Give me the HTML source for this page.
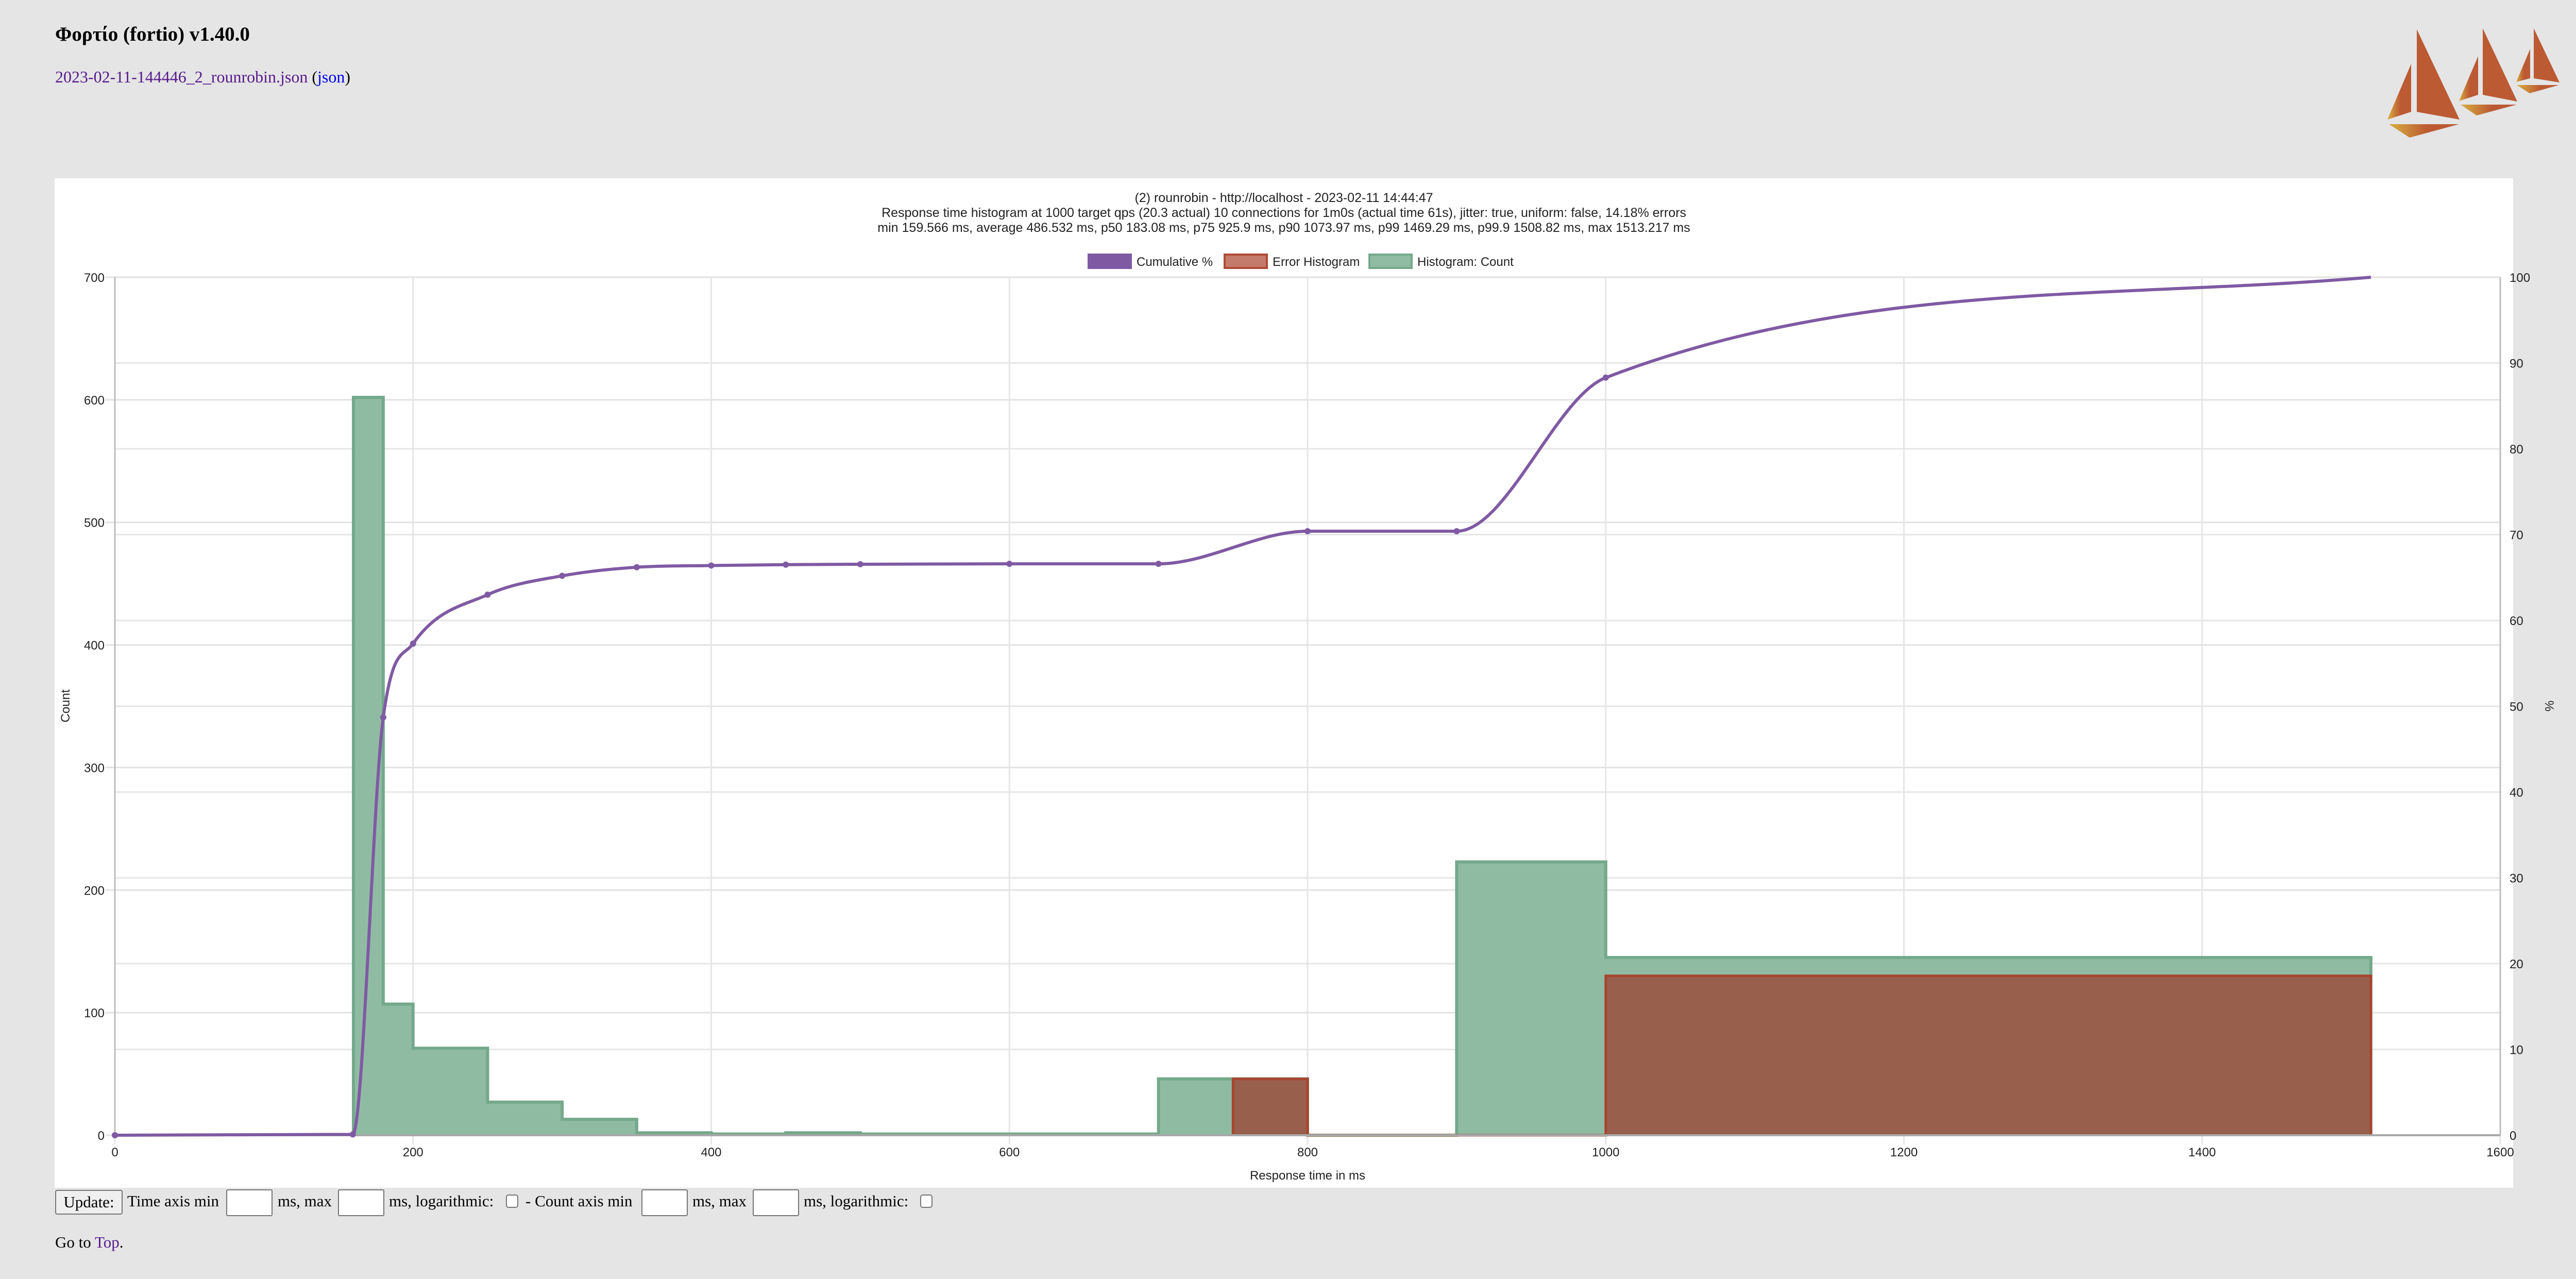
<!DOCTYPE html>
<html><head><meta charset="utf-8">
<style>
html,body{margin:0;padding:0;background:#e5e5e5;}
body{width:5064px;height:2482px;position:relative;overflow:hidden;font-family:"Liberation Serif",serif;}
.abs{position:absolute;}
h1{position:absolute;left:107px;top:44px;margin:0;font-size:39px;font-weight:bold;font-family:"Liberation Serif",serif;}
.lnk{left:107px;top:131px;font-size:32px;color:#551a8b;}
.ctl{font-size:31px;color:#000;white-space:nowrap;}
.inp{position:absolute;background:#fff;border:2px solid #767676;border-radius:3px;box-sizing:border-box;}
.cb{position:absolute;background:#fff;border:2px solid #767676;border-radius:5px;box-sizing:border-box;width:24px;height:26px;}
svg text{font-family:"Liberation Sans",sans-serif;fill:#222;}
</style></head><body>
<h1>Φορτίο (fortio) v1.40.0</h1>
<div class="abs lnk">2023-02-11-144446_2_rounrobin.json <span style="color:#000">(</span><span style="color:#0000ee">json</span><span style="color:#000">)</span></div>

<svg class="abs" style="left:4600px;top:40px" width="400" height="250" viewBox="4600 40 400 250">
<defs><linearGradient id="lg" x1="0" x2="1" y1="0" y2="0"><stop offset="0" stop-color="#d9ae40"/><stop offset="0.55" stop-color="#bb5a33"/></linearGradient></defs>
<polygon points="4691,57 4691,217 4774,232" fill="#bb5a33"/>
<polygon points="4680,124 4680,217 4634,232" fill="url(#lg)"/>
<polygon points="4637,241 4773,241 4677,267" fill="url(#lg)"/>
<polygon points="4819,55 4819,184 4886,197" fill="#bb5a33"/>
<polygon points="4810,109 4810,184 4773,196" fill="url(#lg)"/>
<polygon points="4776,203 4885,203 4807,224" fill="url(#lg)"/>
<polygon points="4918,55 4918,152 4968,160" fill="#bb5a33"/>
<polygon points="4911,95 4911,152 4884,159" fill="url(#lg)"/>
<polygon points="4885,165 4967,165 4910,181" fill="url(#lg)"/>
</svg>

<div class="abs" style="left:106px;top:346px;width:4772px;height:1959px;background:#fff"></div>
<svg id="chart" class="abs" style="left:0;top:0" width="5064" height="2482"></svg>

<div class="abs" style="left:107px;top:2309px;width:131px;height:48px;background:#efefef;border:2px solid #767676;border-radius:4px;box-sizing:border-box;font-size:31px;text-align:center;line-height:44px">Update:</div>
<div class="abs ctl" style="left:247px;top:2313px">Time axis min</div>
<div class="inp" style="left:439px;top:2308px;width:90px;height:52px"></div>
<div class="abs ctl" style="left:539px;top:2313px">ms, max</div>
<div class="inp" style="left:656px;top:2308px;width:90px;height:52px"></div>
<div class="abs ctl" style="left:755px;top:2313px">ms, logarithmic:</div>
<div class="cb" style="left:982px;top:2318px"></div>
<div class="abs ctl" style="left:1020px;top:2313px">- Count axis min</div>
<div class="inp" style="left:1245px;top:2308px;width:90px;height:52px"></div>
<div class="abs ctl" style="left:1344px;top:2313px">ms, max</div>
<div class="inp" style="left:1461px;top:2308px;width:90px;height:52px"></div>
<div class="abs ctl" style="left:1560px;top:2313px">ms, logarithmic:</div>
<div class="cb" style="left:1786px;top:2318px"></div>
<div class="abs ctl" style="left:107px;top:2393px">Go to <span style="color:#551a8b">Top</span>.</div>

<script>
const binStarts = [160,180,200,250,300,350,400,450,500,600,700,750,800,900,1000];
const binEnds   = [180,200,250,300,350,400,450,500,600,700,750,800,900,1000,1513.217];
const counts    = [602,107,71,27,13,2,1,2,1,1,46,46,0,223,145];
const errStarts = [750,800,1000];
const errEnds   = [800,1000,1513.217];
const errCounts = [46,0,130];
const cumX   = [0,159.566,180,200,250,300,350,400,450,500,600,700,800,900,1000,1513.217];
const cumPct = [0,0.1,48.7,57.3,63.0,65.2,66.2,66.4,66.5,66.55,66.6,66.6,70.4,70.4,88.3,100];
const xTicks = [0,200,400,600,800,1000,1200,1400,1600];
const yTicks = [0,100,200,300,400,500,600,700];
const pTicks = [0,10,20,30,40,50,60,70,80,90,100];
const titleLines = ["(2) rounrobin - http://localhost - 2023-02-11 14:44:47",
"Response time histogram at 1000 target qps (20.3 actual) 10 connections for 1m0s (actual time 61s), jitter: true, uniform: false, 14.18% errors",
"min 159.566 ms, average 486.532 ms, p50 183.08 ms, p75 925.9 ms, p90 1073.97 ms, p99 1469.29 ms, p99.9 1508.82 ms, max 1513.217 ms"];

const L=223,R=4853,T=538,B=2203;
const xs=v=>L+(v/1600)*(R-L);
const ys=v=>B-(v/700)*(B-T);
const ps=v=>B-(v/100)*(B-T);
const svg=document.getElementById('chart');
const NS='http://www.w3.org/2000/svg';
function mk(tag,attrs,parent){const e=document.createElementNS(NS,tag);for(const k in attrs)e.setAttribute(k,attrs[k]);(parent||svg).appendChild(e);return e;}

titleLines.forEach((t,i)=>{const e=mk('text',{x:2492,y:392+i*29,'text-anchor':'middle','font-size':25});e.textContent=t;

});

const leg=[["Cumulative %","#7f5aa3","#7f5aa3",2111],["Error Histogram","#c57b6c","#b04a36",2375],["Histogram: Count","#90bba3","#74a98b",2656]];
leg.forEach(l=>{const g=mk('g',{});


mk('rect',{x:l[3]+2,y:494,width:82,height:26,fill:l[1],stroke:l[2],'stroke-width':4},g);
const t=mk('text',{x:l[3]+95,y:516,'font-size':24},g);t.textContent=l[0];});

pTicks.forEach(v=>{const e=mk('line',{x1:L,x2:R,y1:ps(v),y2:ps(v),stroke:'#e6e6e6','stroke-width':3});

});
yTicks.forEach(v=>{const e=mk('line',{x1:L-18,x2:R,y1:ys(v),y2:ys(v),stroke:'#e2e2e2','stroke-width':3});

});
xTicks.forEach(v=>{const e=mk('line',{x1:xs(v),x2:xs(v),y1:T,y2:B+18,stroke:'#e6e6e6','stroke-width':3});

});

yTicks.forEach(v=>{const e=mk('text',{x:203,y:ys(v)+9,'text-anchor':'end','font-size':24});e.textContent=v;

});
pTicks.forEach(v=>{const e=mk('text',{x:4871,y:ps(v)+9,'font-size':24});e.textContent=v;

});
xTicks.forEach(v=>{const e=mk('text',{x:xs(v),y:2244,'text-anchor':'middle','font-size':24});e.textContent=v;

});
{const e=mk('text',{x:2538,y:2289,'text-anchor':'middle','font-size':24});e.textContent='Response time in ms';

}
{const e=mk('text',{x:0,y:0,'text-anchor':'middle','font-size':24,transform:'translate(135,1370) rotate(-90)'});e.textContent='Count';

}
{const e=mk('text',{x:0,y:0,'text-anchor':'middle','font-size':24,transform:'translate(4940,1370) rotate(90)'});e.textContent='%';

}

function stepPath(st,en,c){let d='M'+xs(st[0])+','+ys(0);for(let i=0;i<st.length;i++){d+=' L'+xs(st[i])+','+ys(c[i])+' L'+xs(en[i])+','+ys(c[i]);}d+=' L'+xs(en[en.length-1])+','+ys(0)+' Z';return d;}
function stepLine(st,en,c){let d='M'+xs(st[0])+','+ys(0);for(let i=0;i<st.length;i++){d+=' L'+xs(st[i])+','+ys(c[i])+' L'+xs(en[i])+','+ys(c[i]);}d+=' L'+xs(en[en.length-1])+','+ys(0);return d;}
{const e=mk('path',{d:stepPath(binStarts,binEnds,counts),fill:'#90bba3',stroke:'none'});


const l=mk('path',{d:stepLine(binStarts,binEnds,counts),fill:'none',stroke:'#74a98b','stroke-width':6});

}
{const e=mk('path',{d:stepPath(errStarts,errEnds,errCounts),fill:'#985f4c',stroke:'none'});


const l=mk('path',{d:stepLine(errStarts,errEnds,errCounts),fill:'none',stroke:'#a8452f','stroke-width':5});

}

mk('line',{x1:L,x2:L,y1:T,y2:B,stroke:'#bdbdbd','stroke-width':3});
mk('line',{x1:R,x2:R,y1:T,y2:B,stroke:'#bdbdbd','stroke-width':3});
mk('line',{x1:L,x2:R,y1:B,y2:B,stroke:'#a8a8a8','stroke-width':4});

// cumulative line: monotone cubic interpolation
const P=cumX.map((v,i)=>[xs(v),ps(cumPct[i])]);
const n=P.length, dl=[], m=[];
for(let i=0;i<n-1;i++){dl.push((P[i+1][1]-P[i][1])/(P[i+1][0]-P[i][0]));}
for(let i=0;i<n;i++){
  if(i===0)m.push(dl[0]); else if(i===n-1)m.push(dl[n-2]);
  else m.push((Math.sign(dl[i-1])!==Math.sign(dl[i])||dl[i-1]===0||dl[i]===0)?0:(dl[i-1]+dl[i])/2);
}
for(let i=0;i<n-1;i++){
  if(dl[i]===0){m[i]=0;m[i+1]=0;continue;}
  const a=m[i]/dl[i],b=m[i+1]/dl[i],s=a*a+b*b;
  if(s>9){const t=3/Math.sqrt(s);m[i]=t*a*dl[i];m[i+1]=t*b*dl[i];}
}
let d='M'+P[0][0]+','+P[0][1];
for(let i=0;i<n-1;i++){const dx=(P[i+1][0]-P[i][0])/3;
d+=' C'+(P[i][0]+dx)+','+(P[i][1]+m[i]*dx)+' '+(P[i+1][0]-dx)+','+(P[i+1][1]-m[i+1]*dx)+' '+P[i+1][0]+','+P[i+1][1];}
{const e=mk('path',{d:d,fill:'none',stroke:'#7f5aa3','stroke-width':6});

}
P.slice(0,n-1).forEach(p=>{const e=mk('circle',{cx:p[0],cy:p[1],r:6,fill:'#7f5aa3'});

});
</script>
</body></html>
